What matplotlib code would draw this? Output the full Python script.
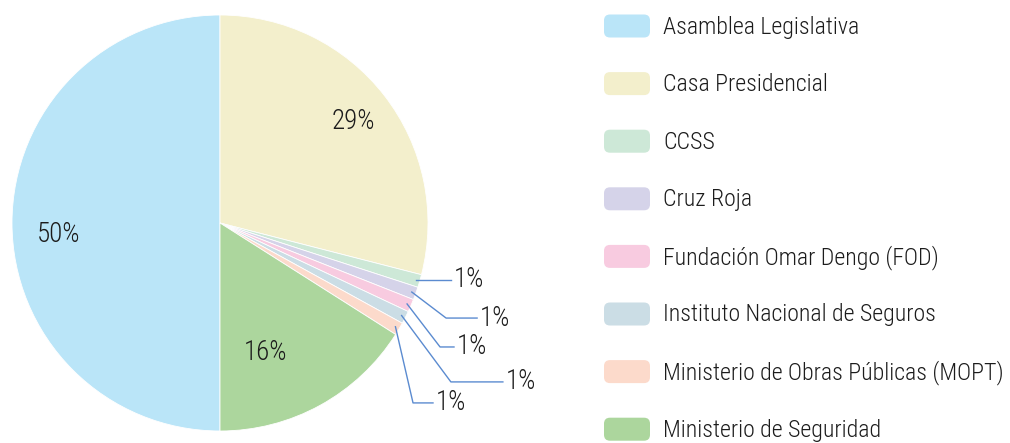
import numpy as np
import matplotlib
matplotlib.use('Agg')
import matplotlib.pyplot as plt
from matplotlib.patches import FancyBboxPatch
from matplotlib import font_manager

labels = ['Asamblea Legislativa', 'Casa Presidencial', 'CCSS', 'Cruz Roja',
          'Fundación Omar Dengo (FOD)', 'Instituto Nacional de Seguros',
          'Ministerio de Obras Públicas (MOPT)', 'Ministerio de Seguridad']
values = [50.0, 29.0, 1.0, 1.0, 1.0, 1.0, 1.0, 16.0]
pct_labels = ['50%', '29%', '1%', '1%', '1%', '1%', '1%', '16%']
colors = ['#bae5f8', '#f3efcc', '#cde8d7', '#d5d3e9', '#f8cbe0',
          '#cbdde5', '#fcdacb', '#acd69d']

#pick a narrow font if one is there
fonts = font_manager.fontManager.ttflist
names = set(f.name for f in fonts)
family, fsize = 'Roboto', 15
for cand in ['Roboto Condensed', 'Liberation Sans Narrow', 'Open Sans Condensed']:
    if cand in names:
        family, fsize = cand, 17.2
        break
plt.rcParams['font.family'] = [family, 'DejaVu Sans']
plt.rcParams['font.weight'] = 'light'
pct_size = fsize * 1.13
text_color = '#1c1c1c'
line_color = '#5b8bd0'

W, H = 1010, 443
cx, cy, R = 220.0, 223.0, 208.0
fig = plt.figure(figsize=(W / 100.0, H / 100.0), dpi=100)

#pie axes, data units = pie radius
ax = fig.add_axes([0, 0, 1, 1])
ax.axis('off')
wedges, _ = ax.pie(values, colors=colors, startangle=-90, counterclock=False,
                   radius=1.0, wedgeprops={'edgecolor': 'white', 'linewidth': 0.6})
ax.set_xlim(-cx / R, (W - cx) / R)
ax.set_ylim((cy - H) / R, cy / R)
ax.set_aspect('auto')

#big slice labels (placed by hand like the original)
big_pos = {0: (-0.775, -0.053), 1: (0.64, 0.486), 7: (0.221, -0.625)}
for i, (x, y) in big_pos.items():
    ax.text(x, y, pct_labels[i], ha='center', va='center', fontsize=pct_size, color=text_color)

#small slice labels with leader lines: (elbow x, elbow y, end x)
leaders = {2: (1.11, -0.284, 1.11),
           3: (1.087, -0.457, 1.236),
           4: (1.058, -0.596, 1.125),
           5: (1.11, -0.764, 1.36),
           6: (0.928, -0.865, 1.024)}
for i, (ex, ey, endx) in leaders.items():
    w = wedges[i]
    ang = np.deg2rad((w.theta1 + w.theta2) / 2.0)
    sx, sy = 0.98 * np.cos(ang), 0.98 * np.sin(ang)
    if i == 2:
        ax.plot([sx, endx], [sy, sy], color=line_color, lw=1.0)
        ty = sy
    else:
        ax.plot([sx, ex, endx], [sy, ey, ey], color=line_color, lw=1.0)
        ty = ey
    ax.text(endx + 0.012, ty, pct_labels[i], ha='left', va='center', fontsize=pct_size, color=text_color)

#legend drawn in pixel units
lax = fig.add_axes([0, 0, 1, 1])
lax.set_xlim(0, W)
lax.set_ylim(H, 0)
lax.axis('off')
for i, (lab, col) in enumerate(zip(labels, colors)):
    yc = 26 + i * 57.6
    lax.add_patch(FancyBboxPatch((604 + 6, yc - 11.5 + 6), 46 - 12, 23 - 12,
                                 boxstyle='round,pad=6', facecolor=col, edgecolor='none'))
    lax.text(663, yc + 1, lab, ha='left', va='center', fontsize=fsize, color=text_color)

plt.savefig('out.png', dpi=100)
plt.close()
